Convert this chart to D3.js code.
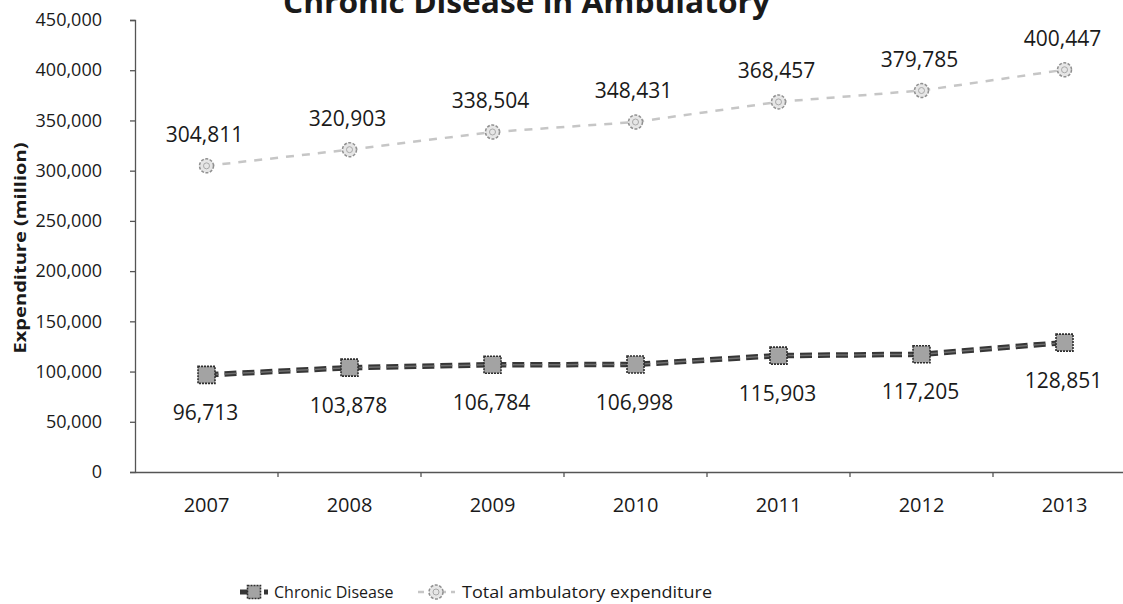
<!DOCTYPE html>
<html>
<head>
<meta charset="utf-8">
<script src="https://cdn.jsdelivr.net/npm/d3@7"></script>
<style>
  html, body { margin: 0; padding: 0; background: #fff; }
  svg { display: block; overflow: hidden; }
  text { font-family: "Open Sans", "Noto Sans", sans-serif; fill: #1a1a1a; }
</style>
</head>
<body>
<svg id="chart" width="1123" height="604"></svg>
<script>
// Ambulatory expenditure (million), 2007–2013
const years = ["2007", "2008", "2009", "2010", "2011", "2012", "2013"];
const chronicDisease = [96713, 103878, 106784, 106998, 115903, 117205, 128851];
const totalAmbulatory = [304811, 320903, 338504, 348431, 368457, 379785, 400447];
const yTicks = [0, 50000, 100000, 150000, 200000, 250000, 300000, 350000, 400000, 450000];
const seriesNames = ["Chronic Disease", "Total ambulatory expenditure"];
const chartTitle = "Chronic Disease in Ambulatory";
const yTitle = "Expenditure (million)";

const svg = d3.select("#chart");
const fmt = d3.format(",");

const x = d3.scaleBand().domain(years).range([135, 1136]);
const y = d3.scaleLinear().domain([0, 450000]).range([472, 20]);
const cx = d => x(d) + x.bandwidth() / 2;

// Title (sits partly above the top edge)
svg.append("text")
  .attr("x", 283).attr("y", 13)
  .attr("textLength", 487).attr("lengthAdjust", "spacingAndGlyphs")
  .style("font-size", "30px").style("font-weight", "bold")
  .text(chartTitle);

// Y axis
const yAxis = svg.append("g")
  .attr("transform", "translate(135,0)")
  .call(d3.axisLeft(y).tickValues(yTicks).tickFormat(fmt).tickSize(5).tickPadding(28));
yAxis.select(".domain").attr("stroke", "#555").attr("stroke-width", 1.3);
yAxis.selectAll(".tick line").attr("stroke", "#555").attr("stroke-width", 1.3);
yAxis.selectAll(".tick text").style("font-size", "18px").attr("fill", "#1a1a1a")
  .style("font-family", "'Open Sans', sans-serif");

// X axis: labels centred in each band, ticks on band boundaries
const xAxis = svg.append("g")
  .attr("transform", "translate(0,472)")
  .call(d3.axisBottom(x).tickSize(0).tickPadding(26));
xAxis.select(".domain").attr("stroke", "#555").attr("stroke-width", 1.3);
xAxis.selectAll(".tick text").style("font-size", "20px").attr("fill", "#1a1a1a")
  .style("font-family", "'Open Sans', sans-serif");
xAxis.selectAll(".boundary")
  .data(years.slice(1))
  .join("line")
  .attr("class", "boundary")
  .attr("x1", d => x(d)).attr("x2", d => x(d))
  .attr("y1", 0).attr("y2", 5)
  .attr("stroke", "#555").attr("stroke-width", 1.3);

// Y axis title
svg.append("text")
  .attr("transform", "translate(26,248) rotate(-90)")
  .attr("text-anchor", "middle")
  .attr("textLength", 211).attr("lengthAdjust", "spacingAndGlyphs")
  .style("font-size", "16px").style("font-weight", "bold")
  .text(yTitle);

const line = d3.line().x((d, i) => cx(years[i])).y(d => y(d));

// Total ambulatory expenditure: light dashed line with round markers
svg.append("path")
  .datum(totalAmbulatory)
  .attr("d", line)
  .attr("fill", "none")
  .attr("stroke", "#c6c6c6")
  .attr("stroke-width", 2.5)
  .attr("stroke-dasharray", "8,8");

function drawCircleMarker(g, px, py) {
  g.append("circle").attr("cx", px).attr("cy", py).attr("r", 7)
    .attr("fill", "#e6e6e6").attr("stroke", "#909090").attr("stroke-width", 1.5)
    .attr("stroke-dasharray", "3,1.5");
  g.append("circle").attr("cx", px).attr("cy", py).attr("r", 3)
    .attr("fill", "none").attr("stroke", "#a8a8a8").attr("stroke-width", 1);
}

const totalG = svg.append("g");
totalAmbulatory.forEach((v, i) => drawCircleMarker(totalG, cx(years[i]), y(v)));

svg.append("g").selectAll("text")
  .data(totalAmbulatory)
  .join("text")
  .attr("x", (d, i) => cx(years[i]) - 2)
  .attr("y", d => y(d) - 24)
  .attr("text-anchor", "middle")
  .style("font-size", "21px")
  .text(d => fmt(d));

// Chronic disease: heavy dashed line with square markers
svg.append("path")
  .datum(chronicDisease)
  .attr("d", line)
  .attr("fill", "none")
  .attr("stroke", "#363636")
  .attr("stroke-width", 5.5)
  .attr("stroke-dasharray", "12,6");
svg.append("path")
  .datum(chronicDisease)
  .attr("d", line)
  .attr("fill", "none")
  .attr("stroke", "#707070")
  .attr("stroke-width", 1.5)
  .attr("stroke-dasharray", "12,6");

function drawSquareMarker(g, px, py, s) {
  g.append("rect")
    .attr("x", px - s / 2).attr("y", py - s / 2)
    .attr("width", s).attr("height", s)
    .attr("fill", "#a3a3a3").attr("stroke", "#2e2e2e").attr("stroke-width", 1.6)
    .attr("stroke-dasharray", "2,1");
}

const chronicG = svg.append("g");
chronicDisease.forEach((v, i) => drawSquareMarker(chronicG, cx(years[i]), y(v), 17));

svg.append("g").selectAll("text")
  .data(chronicDisease)
  .join("text")
  .attr("x", (d, i) => cx(years[i]) - 1)
  .attr("y", d => y(d) + 45)
  .attr("text-anchor", "middle")
  .style("font-size", "21px")
  .text(d => fmt(d));

// Legend
const legend = svg.append("g").attr("transform", "translate(0,592)");
// Chronic Disease entry
legend.append("line").attr("x1", 240).attr("x2", 268).attr("y1", 0).attr("y2", 0)
  .attr("stroke", "#363636").attr("stroke-width", 5).attr("stroke-dasharray", "8,4");
drawSquareMarker(legend, 254, 0, 13);
legend.append("text").attr("x", 274).attr("y", 6)
  .style("font-size", "16px").text(seriesNames[0]);
// Total ambulatory expenditure entry
legend.append("line").attr("x1", 418).attr("x2", 455).attr("y1", 0).attr("y2", 0)
  .attr("stroke", "#c6c6c6").attr("stroke-width", 2.5).attr("stroke-dasharray", "6,5");
drawCircleMarker(legend, 436, 0);
legend.append("text").attr("x", 462).attr("y", 6)
  .attr("textLength", 250).attr("lengthAdjust", "spacingAndGlyphs")
  .style("font-size", "16px").text(seriesNames[1]);
</script>
</body>
</html>
